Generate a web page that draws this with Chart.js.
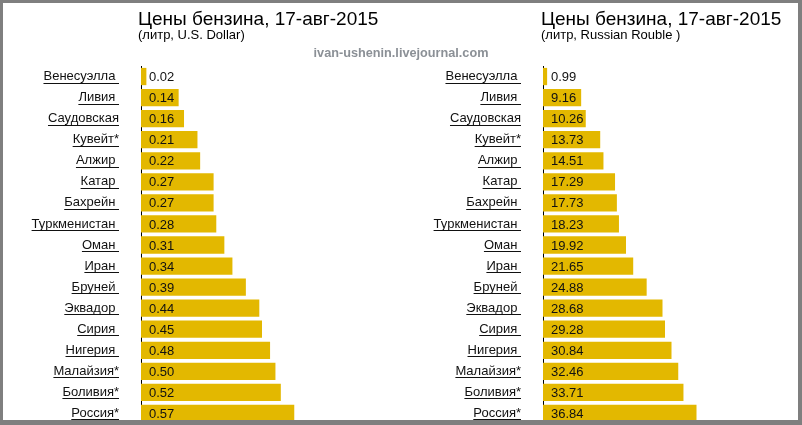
<!DOCTYPE html>
<html>
<head>
<meta charset="utf-8">
<script src="https://cdn.jsdelivr.net/npm/chart.js@4/dist/chart.umd.min.js"></script>
<style>
  html, body { margin: 0; padding: 0; background: #fff; }
  #page { position: relative; width: 802px; height: 425px; overflow: hidden; background: #fff; font-family: Arial, "Liberation Sans", sans-serif; }
  canvas { position: absolute; top: 0; }
  #left-chart { left: 0; }
  #right-chart { left: 401px; }
  .title { position: absolute; font-size: 19px; color: #000; white-space: pre; }
  .subtitle { position: absolute; font-size: 13px; color: #000; white-space: pre; }
  #watermark { position: absolute; left: 0; width: 802px; top: 46px; text-align: center; font-size: 12.7px; font-weight: bold; color: #8b9096; }
  #frame { position: absolute; left: 0; top: 0; width: 802px; height: 425px; box-sizing: border-box;
    border-style: solid; border-color: #7f7f7f; border-width: 3px 4px 5px 3px; pointer-events: none; }
</style>
</head>
<body>
<div id="page">
  <canvas id="left-chart" width="401" height="425"></canvas>
  <canvas id="right-chart" width="401" height="425"></canvas>
  <div class="title" style="left:138px; top:8px;">Цены бензина, 17-авг-2015</div>
  <div class="subtitle" style="left:138px; top:27px;">(литр, U.S. Dollar)</div>
  <div class="title" style="left:541px; top:8px;">Цены бензина, 17-авг-2015</div>
  <div class="subtitle" style="left:541px; top:27px;">(литр, Russian Rouble )</div>
  <div id="watermark">ivan-ushenin.livejournal.com</div>
  <div id="frame"></div>
</div>
<script>
"use strict";

const countries = [
  "Венесуэлла ",
  "Ливия ",
  "Саудовская",
  "Кувейт*",
  "Алжир ",
  "Катар ",
  "Бахрейн ",
  "Туркменистан ",
  "Оман ",
  "Иран ",
  "Бруней ",
  "Эквадор ",
  "Сирия ",
  "Нигерия ",
  "Малайзия*",
  "Боливия*",
  "Россия*",
];

const pricesUsd = [0.02, 0.14, 0.16, 0.21, 0.22, 0.27, 0.27, 0.28, 0.31, 0.34, 0.39, 0.44, 0.45, 0.48, 0.50, 0.52, 0.57];
const pricesRub = [0.99, 9.16, 10.26, 13.73, 14.51, 17.29, 17.73, 18.23, 19.92, 21.65, 24.88, 28.68, 29.28, 30.84, 32.46, 33.71, 36.84];

const barColor = "#e3b800";
const fontFamily = "Arial, 'Liberation Sans', sans-serif";
const labelPadding = 22;

// value text sits inside the bar, just right of the axis
const valueLabels = {
  id: "valueLabels",
  afterDatasetsDraw(chart) {
    let ctx = chart.ctx;
    let meta = chart.getDatasetMeta(0);
    let data = chart.data.datasets[0].data;
    ctx.save();
    ctx.font = "13px " + fontFamily;
    ctx.fillStyle = "#111";
    ctx.textBaseline = "middle";
    ctx.textAlign = "left";
    meta.data.forEach((bar, i) => {
      ctx.fillText(data[i].toFixed(2), bar.base + 8, bar.y + 1);
    });
    ctx.restore();
  },
};

// country names are underlined like links
const underlineTicks = {
  id: "underlineTicks",
  afterDraw(chart) {
    let ctx = chart.ctx;
    let scale = chart.scales.y;
    ctx.save();
    ctx.font = "13px " + fontFamily;
    ctx.strokeStyle = "#111";
    ctx.lineWidth = 1;
    let xr = scale.right - labelPadding;
    chart.data.labels.forEach((label, i) => {
      let w = ctx.measureText(label).width;
      let y = Math.round(scale.getPixelForTick(i) + 6) + 0.5;
      ctx.beginPath();
      ctx.moveTo(xr - w, y);
      ctx.lineTo(xr, y);
      ctx.stroke();
    });
    ctx.restore();
  },
};

function makeChart(canvasId, values, axisWidth, xMax, padRight) {
  let ctx = document.getElementById(canvasId).getContext("2d");
  return new Chart(ctx, {
    type: "bar",
    data: {
      labels: countries,
      datasets: [
        {
          data: values,
          backgroundColor: barColor,
          borderWidth: 0,
          barPercentage: 0.82,
          categoryPercentage: 1,
        },
      ],
    },
    options: {
      indexAxis: "y",
      responsive: false,
      animation: false,
      layout: { padding: { top: 66, bottom: 1, left: 0, right: padRight } },
      plugins: {
        legend: { display: false },
        tooltip: { enabled: false },
      },
      scales: {
        x: {
          display: false,
          min: 0,
          max: xMax,
        },
        y: {
          grid: { display: false, drawTicks: false },
          border: { display: true, color: "#000", width: 1 },
          ticks: {
            padding: labelPadding,
            color: "#111",
            font: { family: fontFamily, size: 13 },
            autoSkip: false,
          },
          afterFit(scale) {
            scale.width = axisWidth;
            // tick padding would otherwise eat space below the last bar
            scale.paddingTop = 0;
            scale.paddingBottom = 0;
          },
        },
      },
    },
    plugins: [valueLabels, underlineTicks],
  });
}

// left: 269 px per dollar, right: ~4.17 px per rouble
makeChart("left-chart", pricesUsd, 141, 0.9, 401 - 141 - 242);
makeChart("right-chart", pricesRub, 142, 60, 401 - 142 - 250);
</script>
</body>
</html>
